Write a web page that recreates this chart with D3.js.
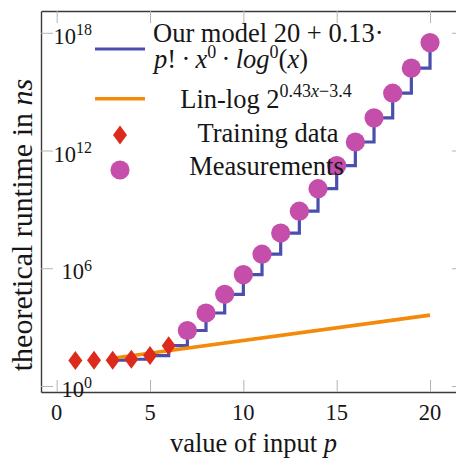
<!DOCTYPE html>
<html><head><meta charset="utf-8">
<script src="https://cdn.jsdelivr.net/npm/d3@7"></script>
<style>
body{margin:0;background:#fff}
svg{display:block}
text{font-family:"Liberation Serif","Times New Roman",serif;fill:#161616}
</style>
</head><body>
<svg id="chart" width="456" height="462"></svg>
<script>
// Input sizes and runtimes (ns)
const xTicks = [0, 5, 10, 15, 20];
const yTickExp = [0, 6, 12, 18];

const trainP = [1, 2, 3, 4, 5, 6];
const trainNs = [20.13, 20.26, 20.78, 23.12, 35.6, 113.6];

const measP = [7, 8, 9, 10, 11, 12, 13, 14, 15, 16, 17, 18, 19, 20];
const measNs = [675, 5262, 47194, 471764, 5.19e6, 6.23e7, 8.09e8, 1.134e10,
                1.70e11, 2.72e12, 4.62e13, 8.32e14, 1.58e16, 3.16e17];

const modelP = [3, 4, 5, 6, 7, 8, 9, 10, 11, 12, 13, 14, 15, 16, 17, 18, 19, 20];
const modelNs = [20.78, 23.12, 35.6, 113.6, 675, 5262, 47194, 471764, 5.19e6,
                 6.23e7, 8.09e8, 1.134e10, 1.70e11, 2.72e12, 4.62e13, 8.32e14,
                 1.58e16, 3.16e17];

const linlogP = [3, 20];
const linlogNs = [25.8, 4096];

const colModel = "#4a4fae", colLinlog = "#f38a0a", colTrain = "#dc2b1c", colMeas = "#c44ea9";

const svg = d3.select("#chart");
const L = 41, R = 464, T = 11, B = 392;

const x = d3.scaleLinear().domain([-0.84, 21.82]).range([L, R]);
const y = d3.scaleLog().domain([Math.pow(10, -0.306), Math.pow(10, 19.11)]).range([B, T]);

// tick marks (inward, light grey)
const tickCol = "#b4b4b4";
const gB = svg.append("g").attr("transform", `translate(0,${B})`)
  .call(d3.axisBottom(x).tickValues(xTicks).tickSizeInner(-12).tickSizeOuter(0).tickFormat(""));
const gT = svg.append("g").attr("transform", `translate(0,${T})`)
  .call(d3.axisTop(x).tickValues(xTicks).tickSizeInner(-12).tickSizeOuter(0).tickFormat(""));
const yVals = yTickExp.map(e => Math.pow(10, e));
const gL = svg.append("g").attr("transform", `translate(${L},0)`)
  .call(d3.axisLeft(y).tickValues(yVals).tickSizeInner(-12).tickSizeOuter(0).tickFormat(""));
const gR = svg.append("g").attr("transform", `translate(${R},0)`)
  .call(d3.axisRight(y).tickValues(yVals).tickSizeInner(-12).tickSizeOuter(0).tickFormat(""));
[gB, gT, gL, gR].forEach(g => {
  g.selectAll(".tick line").attr("stroke", tickCol).attr("stroke-width", 1);
  g.select(".domain").attr("stroke", "#3a3a3a").attr("stroke-width", 1.4);
});

// x tick labels
svg.append("g").selectAll("text").data(xTicks).join("text")
  .attr("x", d => x(d)).attr("y", 419.5)
  .attr("text-anchor", "middle").attr("font-size", 22.5)
  .text(d => d);

// y tick labels (drawn inside the frame)
const yl = svg.append("g").selectAll("text").data(yTickExp).join("text")
  .attr("x", 92).attr("y", d => y(Math.pow(10, d)) + 11)
  .attr("text-anchor", "end").attr("font-size", 22.5);
yl.append("tspan").text("10");
yl.append("tspan").attr("dy", -8.5).attr("font-size", 16).text(d => d);

// axis titles
svg.append("text").attr("x", 253.5).attr("y", 452).attr("text-anchor", "middle")
  .attr("font-size", 26.5)
  .call(t => { t.append("tspan").text("value of input "); t.append("tspan").attr("font-style", "italic").text("p"); });
svg.append("text").attr("transform", "translate(32,225) rotate(-90)").attr("text-anchor", "middle")
  .attr("font-size", 30)
  .call(t => { t.append("tspan").text("theoretical runtime in "); t.append("tspan").attr("font-style", "italic").text("ns"); });

// model staircase
svg.append("path")
  .attr("d", d3.line().curve(d3.curveStepAfter).x((d, i) => x(modelP[i])).y(d => y(d))(modelNs))
  .attr("fill", "none").attr("stroke", colModel).attr("stroke-width", 3.2);

// lin-log fit
svg.append("path")
  .attr("d", d3.line().x((d, i) => x(linlogP[i])).y(d => y(d))(linlogNs))
  .attr("fill", "none").attr("stroke", colLinlog).attr("stroke-width", 3.6);

const diamond = "M0,-9.5L7,0L0,9.5L-7,0Z";

// training data
svg.append("g").selectAll("path").data(trainNs).join("path")
  .attr("d", diamond)
  .attr("transform", (d, i) => `translate(${x(trainP[i])},${y(d)})`)
  .attr("fill", colTrain);

// measurements
svg.append("g").selectAll("circle").data(measNs).join("circle")
  .attr("cx", (d, i) => x(measP[i])).attr("cy", d => y(d)).attr("r", 9.6)
  .attr("fill", colMeas);

// legend
const lg = svg.append("g");
lg.append("line").attr("x1", 95).attr("x2", 145).attr("y1", 49).attr("y2", 49)
  .attr("stroke", colModel).attr("stroke-width", 3.2);
lg.append("line").attr("x1", 95).attr("x2", 145).attr("y1", 98.7).attr("y2", 98.7)
  .attr("stroke", colLinlog).attr("stroke-width", 3.6);
lg.append("path").attr("d", diamond).attr("transform", "translate(120,135)").attr("fill", colTrain);
lg.append("circle").attr("cx", 120).attr("cy", 170).attr("r", 9.6).attr("fill", colMeas);

const fs = 26.5, sup = 18;
const t1 = lg.append("text").attr("x", 153).attr("y", 42).attr("font-size", fs);
t1.append("tspan").text("Our model 20 + 0.13\u00b7");
const t2 = lg.append("text").attr("x", 154).attr("y", 68).attr("font-size", fs);
t2.append("tspan").attr("font-style", "italic").text("p");
t2.append("tspan").text("!\u2009\u00b7\u2009");
t2.append("tspan").attr("font-style", "italic").text("x");
t2.append("tspan").attr("dy", -10).attr("font-size", sup).text("0");
t2.append("tspan").attr("dy", 10).text("\u2009\u00b7\u2009");
t2.append("tspan").attr("font-style", "italic").text("log");
t2.append("tspan").attr("dy", -10).attr("font-size", sup).text("0");
t2.append("tspan").attr("dy", 10).text("(");
t2.append("tspan").attr("font-style", "italic").text("x");
t2.append("tspan").text(")");

const t3 = lg.append("text").attr("x", 266).attr("y", 108.3).attr("font-size", fs).attr("text-anchor", "middle");
t3.append("tspan").text("Lin-log 2");
t3.append("tspan").attr("dy", -11).attr("font-size", sup).text("0.43");
t3.append("tspan").attr("font-size", sup).attr("font-style", "italic").text("x");
t3.append("tspan").attr("font-size", sup).text("\u22123.4");

lg.append("text").attr("x", 268).attr("y", 141.7).attr("font-size", fs).attr("text-anchor", "middle").text("Training data");
lg.append("text").attr("x", 266.5).attr("y", 175).attr("font-size", fs).attr("text-anchor", "middle").text("Measurements");
</script>
</body></html>
